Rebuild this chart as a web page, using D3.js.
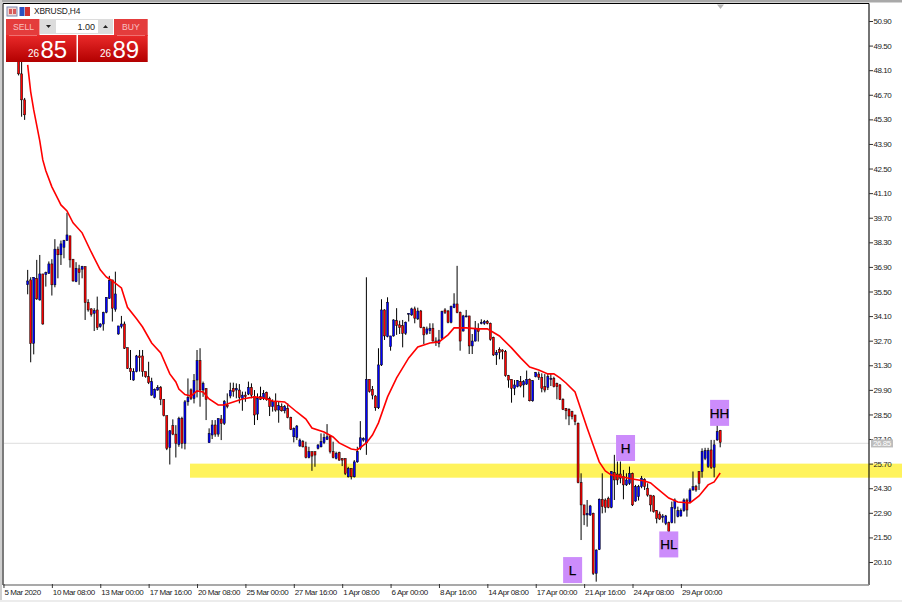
<!DOCTYPE html>
<html><head><meta charset="utf-8">
<script src="https://cdn.jsdelivr.net/npm/d3@7/dist/d3.min.js"></script>
<style>html,body{margin:0;padding:0;background:#fff;overflow:hidden}svg{display:block}text{font-family:"Liberation Sans",Arial,sans-serif}</style>
</head><body>
<script>
const opens=[48.58,47.89,46.41,35.89,36.16,32.55,36.25,35.02,36.50,36.46,36.54,37.07,35.88,37.91,37.59,38.02,38.40,38.67,37.34,36.06,36.79,36.77,36.92,34.87,34.51,34.26,34.45,33.50,33.65,34.32,35.11,36.16,34.49,33.08,33.50,33.65,32.30,31.13,30.46,30.94,31.83,31.83,30.94,30.65,29.60,29.47,29.89,30.04,29.36,28.43,26.62,27.86,27.38,26.79,28.27,26.85,29.22,29.90,29.41,30.46,31.56,29.89,29.98,26.89,27.33,27.90,27.38,28.24,27.99,29.04,29.55,29.98,29.89,29.89,29.42,29.60,29.66,30.04,29.51,28.52,29.51,29.42,29.76,29.42,28.94,29.23,28.75,28.94,28.71,28.85,28.33,27.23,27.19,26.70,26.95,26.66,26.05,26.38,26.38,26.57,26.66,26.89,27.08,27.27,26.38,26.00,26.32,25.99,25.99,24.95,25.43,24.95,25.80,26.57,27.04,26.88,30.50,29.93,29.55,28.88,31.32,34.45,32.93,32.36,32.97,33.84,33.60,33.56,33.12,34.24,34.17,34.51,33.94,34.39,33.44,33.12,33.27,33.41,32.68,32.55,32.84,34.45,34.39,33.75,34.58,34.79,34.32,33.25,34.07,34.11,32.40,32.68,33.41,33.69,33.69,33.79,33.69,32.89,31.89,32.21,32.17,32.08,30.71,30.50,29.99,30.08,30.37,30.18,30.23,30.50,29.28,30.65,30.80,30.61,30.08,30.04,30.50,30.55,30.27,30.18,29.36,28.85,28.79,28.66,28.47,28.00,24.62,23.35,22.78,22.78,22.87,19.45,20.82,23.67,23.63,23.72,23.21,25.19,25.11,25.11,24.96,24.49,24.58,25.15,23.57,23.82,24.39,24.81,24.30,23.91,23.86,23.02,22.83,22.64,22.30,22.34,22.34,23.15,22.68,22.72,23.02,23.63,23.54,24.20,24.39,25.25,25.25,26.00,25.53,26.48,25.49,27.05,27.58];
const highs=[48.70,48.60,46.52,36.73,36.31,36.31,37.30,37.58,36.50,36.63,37.21,37.34,38.48,38.06,38.40,38.44,39.98,38.67,37.34,37.17,37.02,36.96,36.92,35.06,34.55,34.55,35.21,33.69,34.35,35.17,36.39,36.16,36.63,33.54,34.11,33.79,32.30,32.17,31.13,31.89,32.17,32.17,30.94,31.50,30.59,29.98,30.17,30.12,29.36,28.43,27.61,28.22,27.89,28.37,28.37,29.32,30.55,29.98,30.80,32.17,32.27,30.37,29.98,27.71,28.18,28.18,28.27,28.47,29.32,29.70,30.31,30.31,30.27,30.23,29.80,29.80,30.37,30.27,29.89,29.70,30.08,29.89,29.80,29.51,29.36,29.70,29.23,29.13,29.04,29.13,28.37,27.76,27.90,27.13,27.04,26.95,26.66,26.38,26.38,26.81,27.42,27.42,27.95,27.33,26.95,26.38,26.38,26.00,25.99,25.52,25.43,25.90,26.66,28.12,27.20,36.31,30.50,30.12,29.60,32.27,35.06,34.49,35.17,32.97,33.92,34.55,33.84,33.88,33.79,34.26,34.58,34.64,34.58,34.45,33.50,33.50,33.69,33.69,32.89,33.31,34.41,34.55,34.45,34.70,35.40,36.96,34.36,34.17,34.45,34.11,33.08,33.82,33.69,33.92,33.88,33.88,33.73,32.93,32.17,32.32,32.21,32.17,30.75,30.50,30.46,30.46,30.69,30.46,31.00,30.55,30.46,30.92,30.94,30.84,30.80,30.84,30.84,30.65,30.31,30.23,29.42,28.85,28.85,28.71,28.47,28.04,25.15,23.35,23.63,23.35,22.91,20.82,23.72,25.15,23.72,23.82,25.28,26.20,25.82,25.82,25.34,25.15,25.53,25.19,24.49,24.49,25.00,24.87,24.58,23.91,23.91,23.06,22.97,22.83,22.78,22.40,23.54,23.72,23.25,23.15,23.72,23.72,24.30,25.25,24.49,25.25,26.57,26.60,26.60,27.05,27.05,28.00,27.62];
const lows=[47.80,45.45,45.27,35.34,31.47,31.92,35.02,34.98,33.61,35.78,36.50,35.27,35.74,36.25,37.01,37.39,38.40,36.86,36.06,36.03,35.88,36.25,33.88,34.35,34.07,33.25,33.31,33.44,33.27,34.26,35.08,33.79,34.35,33.04,33.40,32.23,31.09,30.46,30.42,30.90,30.94,30.65,30.59,30.23,29.57,29.41,29.85,29.03,28.39,26.47,25.65,27.32,26.05,26.66,26.56,26.51,29.00,29.32,29.13,29.47,28.94,29.50,28.18,26.89,27.10,27.23,27.23,27.04,27.90,28.85,29.42,29.51,29.42,29.13,28.71,29.22,29.60,29.42,27.90,28.18,29.32,29.32,29.28,28.41,28.66,28.66,28.03,28.66,28.56,28.28,27.61,26.91,27.04,26.66,26.62,26.00,26.00,25.29,25.52,26.51,26.62,26.81,27.04,26.28,26.00,25.94,25.86,25.56,25.05,24.91,24.80,24.91,25.75,26.47,26.95,26.20,29.74,29.36,28.71,28.81,31.26,32.74,32.89,32.13,32.93,33.03,33.08,32.32,33.03,33.79,34.11,33.69,33.88,33.41,32.51,33.03,33.08,32.65,32.40,32.32,32.74,34.22,33.69,33.69,34.55,34.26,32.13,33.22,34.03,31.94,31.94,32.65,32.65,33.63,33.60,33.63,32.70,31.83,31.32,31.64,31.64,30.65,30.02,29.17,29.60,30.04,30.04,29.47,30.18,29.24,29.22,30.61,30.46,29.76,29.76,29.89,30.12,30.04,29.36,29.32,28.75,28.22,27.89,28.22,27.89,24.58,21.35,22.20,22.11,22.72,19.36,18.98,20.78,22.87,22.91,23.16,23.16,23.63,24.49,24.58,23.67,24.43,24.49,23.29,23.53,23.60,24.30,24.20,23.82,22.97,22.91,22.30,22.49,22.34,22.20,21.77,22.30,22.30,22.64,22.68,22.96,22.68,23.48,24.16,24.10,24.20,24.90,25.90,25.45,25.40,24.92,27.00,26.63];
const closes=[47.89,46.41,45.56,36.10,32.55,36.31,35.08,36.50,33.65,36.58,37.07,35.88,37.91,37.59,38.21,38.40,38.72,37.30,36.10,36.82,36.58,36.92,34.87,34.45,34.20,34.41,33.44,33.65,34.30,35.17,36.12,34.55,35.36,33.54,33.65,32.27,31.13,30.94,30.94,31.83,31.73,30.94,30.65,30.31,30.37,29.93,30.04,29.36,28.43,26.56,27.57,27.38,26.85,28.27,26.85,29.22,29.47,29.41,30.42,31.56,29.89,30.27,29.36,27.42,27.90,27.38,28.27,27.99,29.23,28.94,29.85,29.80,29.98,29.47,29.60,29.51,30.04,29.60,28.47,29.42,29.36,29.70,29.36,28.94,29.23,28.75,29.00,28.71,28.94,28.33,27.65,27.70,27.84,27.04,26.66,26.05,26.38,26.13,26.19,26.76,26.95,27.19,27.23,26.38,26.05,26.28,25.90,25.90,25.14,25.43,24.95,25.80,26.38,27.17,27.13,30.50,29.80,29.60,28.88,31.32,34.45,32.97,34.89,32.97,33.88,33.56,33.44,33.12,33.75,34.26,34.51,33.98,34.39,33.44,33.03,33.37,33.41,32.68,32.65,32.74,34.36,34.32,33.75,34.64,34.79,34.30,32.68,34.11,34.11,32.40,32.68,33.41,33.22,33.73,33.79,33.69,32.78,31.89,32.02,32.02,32.08,30.71,30.46,29.99,30.18,30.42,30.12,30.37,30.50,29.28,30.42,30.88,30.61,29.99,29.89,30.65,30.55,30.08,30.08,29.36,28.79,28.71,28.41,28.37,28.09,24.62,23.35,22.78,22.87,23.29,19.45,20.78,23.67,23.25,23.21,23.21,25.25,24.77,24.77,24.87,24.49,24.77,25.15,23.35,24.39,24.39,24.87,24.39,23.91,23.35,22.97,22.59,22.55,22.72,22.72,21.83,23.21,23.63,23.02,23.02,23.63,23.06,24.20,24.39,24.20,24.58,26.39,26.44,26.44,25.49,26.77,27.52,26.92];
const maBars=[3,4,5,7,8,9,11,13,14,16,18,21,24,27,29,31,34,36,39,41,44,47,50,52,53,55,57,59,61,63,66,68,71,74,78,81,84,88,92,95,97,101,104,106,110,112,115,117,119,122,125,129,132,136,139,142,144,148,152,155,159,163,166,169,172,175,177,179,181,184,186,188,190,192,194,196,199,203,207,209,211,215,218,222,225,228,230,232];
const maValues=[48.40,46.87,45.84,44.08,42.99,42.37,41.46,40.77,40.43,40.09,39.41,38.84,37.75,36.73,36.33,36.10,35.70,34.60,33.95,33.48,32.57,32.00,30.81,30.35,29.95,29.63,29.55,29.84,29.78,29.38,29.04,29.04,29.21,29.38,29.50,29.44,29.27,29.21,28.64,28.24,27.73,27.50,27.22,26.88,26.53,26.48,26.88,27.33,28.02,29.50,30.58,31.72,32.34,32.57,32.63,33.03,33.43,33.43,33.37,33.37,32.97,32.29,31.72,31.20,31.03,30.81,30.81,30.58,30.29,29.78,28.76,27.73,26.76,25.80,25.28,25.05,24.97,24.83,24.71,24.60,24.31,23.74,23.52,23.46,23.86,24.49,24.66,25.17];
const priceTicks=[50.90,49.50,48.10,46.70,45.30,43.90,42.50,41.10,39.70,38.30,36.90,35.50,34.10,32.70,31.30,29.90,28.50,27.10,25.70,24.30,22.90,21.50,20.10];
const timeLabels=["5 Mar 2020","10 Mar 08:00","13 Mar 00:00","17 Mar 16:00","20 Mar 08:00","25 Mar 00:00","27 Mar 16:00","1 Apr 08:00","6 Apr 00:00","8 Apr 16:00","14 Apr 08:00","17 Apr 00:00","21 Apr 16:00","24 Apr 08:00","29 Apr 00:00"];
const timeTickBars=[-5,11,27,43,59,75,91,107,123,139,155,171,187,203,219];
const zone=[25.70,24.90];
const lastPrice=26.85;
const swingLabels=["L","H","HL","HH"];
const swingBars=[183.2,200.7,215,231.8];
const swingPrices=[19.64,26.59,21.10,28.59];

const W=902,H=602,plotL=3,plotR=869,plotT=3.5,plotB=585;
const x=d3.scaleLinear().domain([0,232]).range([18.6,720.2]);
const y=d3.scaleLinear().domain([20.10,50.90]).range([562,21]);
const svg=d3.select("body").append("svg").attr("width",W).attr("height",H);
svg.append("rect").attr("width",W).attr("height",H).attr("fill","#fff");
svg.append("rect").attr("width",W).attr("height",2.5).attr("fill","#a9a9a9");
svg.append("rect").attr("x",0).attr("y",0).attr("width",2).attr("height",H).attr("fill","#cfcfcf");
svg.append("rect").attr("y",600).attr("width",W).attr("height",2).attr("fill","#ececec");

// support zone, drawn behind the bars
svg.append("rect").attr("x",190).attr("width",W-190).attr("y",y(zone[0])).attr("height",y(zone[1])-y(zone[0])).attr("fill","#fff35c");

// frame
svg.append("line").attr("x1",plotL).attr("x2",plotR).attr("y1",plotT).attr("y2",plotT).attr("stroke","#000").attr("stroke-width",1.2);
svg.append("line").attr("x1",plotL).attr("x2",plotL).attr("y1",plotT).attr("y2",plotB).attr("stroke","#222").attr("stroke-width",1.2);
// last price line
svg.append("line").attr("x1",plotL+1).attr("x2",plotR).attr("y1",y(lastPrice)).attr("y2",y(lastPrice)).attr("stroke","#e4e4e4").attr("stroke-width",1.2);

// axes
const yAxis=d3.axisRight(y).tickValues(priceTicks).tickFormat(d3.format(".2f")).tickSize(4).tickPadding(0.5);
const gy=svg.append("g").attr("transform",`translate(${plotR},0)`).call(yAxis);
gy.select(".domain").attr("d",`M0,${plotT}V${plotB}`).attr("stroke","#000").attr("stroke-width",1.1);
gy.selectAll("text").attr("font-size",8).attr("fill","#222").style("letter-spacing","-0.45px").style("font-family",'"Liberation Sans",Arial,sans-serif');
gy.selectAll("line").attr("stroke","#333");

const xAxis=d3.axisBottom(x).tickValues(timeTickBars).tickFormat((d,i)=>timeLabels[i]).tickSize(-3).tickPadding(6);
const gx=svg.append("g").attr("transform",`translate(0,${plotB})`).call(xAxis);
gx.select(".domain").attr("d",`M${plotL},0H${plotR}`).attr("stroke","#8c8c8c").attr("stroke-width",1.4);
gx.selectAll("line").attr("y1",3).attr("y2",-1).attr("stroke","#333");
gx.selectAll("text").attr("font-size",8).attr("fill","#222").attr("text-anchor","start").attr("dx",0.5).attr("y",10).attr("dy","0").style("letter-spacing","-0.43px").style("font-family",'"Liberation Sans",Arial,sans-serif');

// candles
const bars=d3.range(opens.length);
const g=svg.append("g");
g.selectAll("line.w").data(bars).join("line").attr("class","w")
 .attr("x1",i=>x(i)).attr("x2",i=>x(i)).attr("y1",i=>y(highs[i])).attr("y2",i=>y(lows[i]))
 .attr("stroke","#000").attr("stroke-width",1);
g.selectAll("rect.b").data(bars).join("rect").attr("class","b")
 .attr("x",i=>x(i)-1).attr("width",2)
 .attr("y",i=>y(Math.max(opens[i],closes[i])))
 .attr("height",i=>Math.max(1,Math.abs(y(opens[i])-y(closes[i]))))
 .attr("fill",i=>closes[i]>=opens[i]?"#0000ff":"#ff0000")
 .attr("stroke","#000").attr("stroke-width",0.5);

// moving average
const ma=d3.line().x((d,i)=>x(maBars[i])).y(d=>y(d));
svg.append("path").attr("d",ma(maValues)).attr("fill","none").attr("stroke","#ff0000").attr("stroke-width",1.6);

// last price tag and shift marker
svg.append("rect").attr("x",871).attr("y",y(lastPrice)-4).attr("width",22).attr("height",8).attr("fill","#bdbdbd");
svg.append("text").attr("x",873).attr("y",y(lastPrice)+3).attr("font-size",8).style("letter-spacing","-0.45px").attr("fill","#fff").text(lastPrice.toFixed(2));
svg.append("path").attr("d","M717,4.5H724L720.5,9Z").attr("fill","#b5b5b5");

// swing labels
swingLabels.forEach((t,k)=>{
  const cx=x(swingBars[k]),cy=y(swingPrices[k]);
  svg.append("rect").attr("x",cx-9.5).attr("y",cy-13).attr("width",19).attr("height",26).attr("fill","#cc8cfb");
  svg.append("text").attr("x",cx).attr("y",cy+5).attr("text-anchor","middle").attr("font-size",13.5).attr("fill","#000").attr("stroke","#000").attr("stroke-width",0.25).text(t);
});

// title bar
const grad=svg.append("defs").append("linearGradient").attr("id","rd").attr("x1",0).attr("x2",0).attr("y1",0).attr("y2",1);
grad.append("stop").attr("offset",0).attr("stop-color","#ea2a2a");
grad.append("stop").attr("offset",1).attr("stop-color","#b30000");
svg.append("rect").attr("x",7).attr("y",7).attr("width",10).attr("height",9).attr("fill","#f3d6d0").attr("stroke","#7d8cb5").attr("stroke-width",1);
svg.append("rect").attr("x",9).attr("y",9).attr("width",3).attr("height",5).attr("fill","#d85a5a");
svg.append("rect").attr("x",13).attr("y",9).attr("width",3).attr("height",5).attr("fill","#d85a5a");
svg.append("rect").attr("x",19.5).attr("y",7).attr("width",5).attr("height",9).attr("fill","#2b4fc0");
svg.append("rect").attr("x",25).attr("y",7).attr("width",5).attr("height",9).attr("fill","#d03030");
svg.append("text").attr("x",34).attr("y",14).attr("font-size",8.4).style("letter-spacing","-0.2px").attr("fill","#222").text("XBRUSD,H4");

// one-click panel
svg.append("rect").attr("x",6).attr("y",19).attr("width",33.5).attr("height",17).attr("fill","#e43c3c");
svg.append("rect").attr("x",114).attr("y",19).attr("width",33.7).attr("height",17).attr("fill","#e43c3c");
svg.append("rect").attr("x",6).attr("y",35).attr("width",70.5).attr("height",27).attr("fill","url(#rd)");
svg.append("rect").attr("x",78).attr("y",35).attr("width",69.7).attr("height",27).attr("fill","url(#rd)");
svg.append("rect").attr("x",40).attr("y",19).attr("width",73).attr("height",15).attr("fill","#dcdcdc");
svg.append("rect").attr("x",56).attr("y",20).attr("width",42).attr("height",13).attr("fill","#fff");
svg.append("path").attr("d","M46,25H51L48.5,28Z").attr("fill","#222");
svg.append("path").attr("d","M103,28H108L105.5,25Z").attr("fill","#222");
svg.append("text").attr("x",95).attr("y",30).attr("text-anchor","end").attr("font-size",9).attr("fill","#222").text("1.00");
svg.append("text").attr("x",13).attr("y",30).attr("font-size",8.6).attr("fill","#f9c0c0").text("SELL");
svg.append("text").attr("x",122).attr("y",30).attr("font-size",8.6).attr("fill","#f9c0c0").text("BUY");
svg.append("line").attr("x1",9).attr("x2",37).attr("y1",35.5).attr("y2",35.5).attr("stroke","#f07070");
svg.append("line").attr("x1",117).attr("x2",145).attr("y1",35.5).attr("y2",35.5).attr("stroke","#f07070");
svg.append("text").attr("x",28).attr("y",57).attr("font-size",10).attr("fill","#fff").text("26");
svg.append("text").attr("x",40.5).attr("y",58).attr("font-size",24).attr("fill","#fff").text("85");
svg.append("text").attr("x",100).attr("y",57).attr("font-size",10).attr("fill","#fff").text("26");
svg.append("text").attr("x",112.5).attr("y",58).attr("font-size",24).attr("fill","#fff").text("89");
</script>
</body></html>
